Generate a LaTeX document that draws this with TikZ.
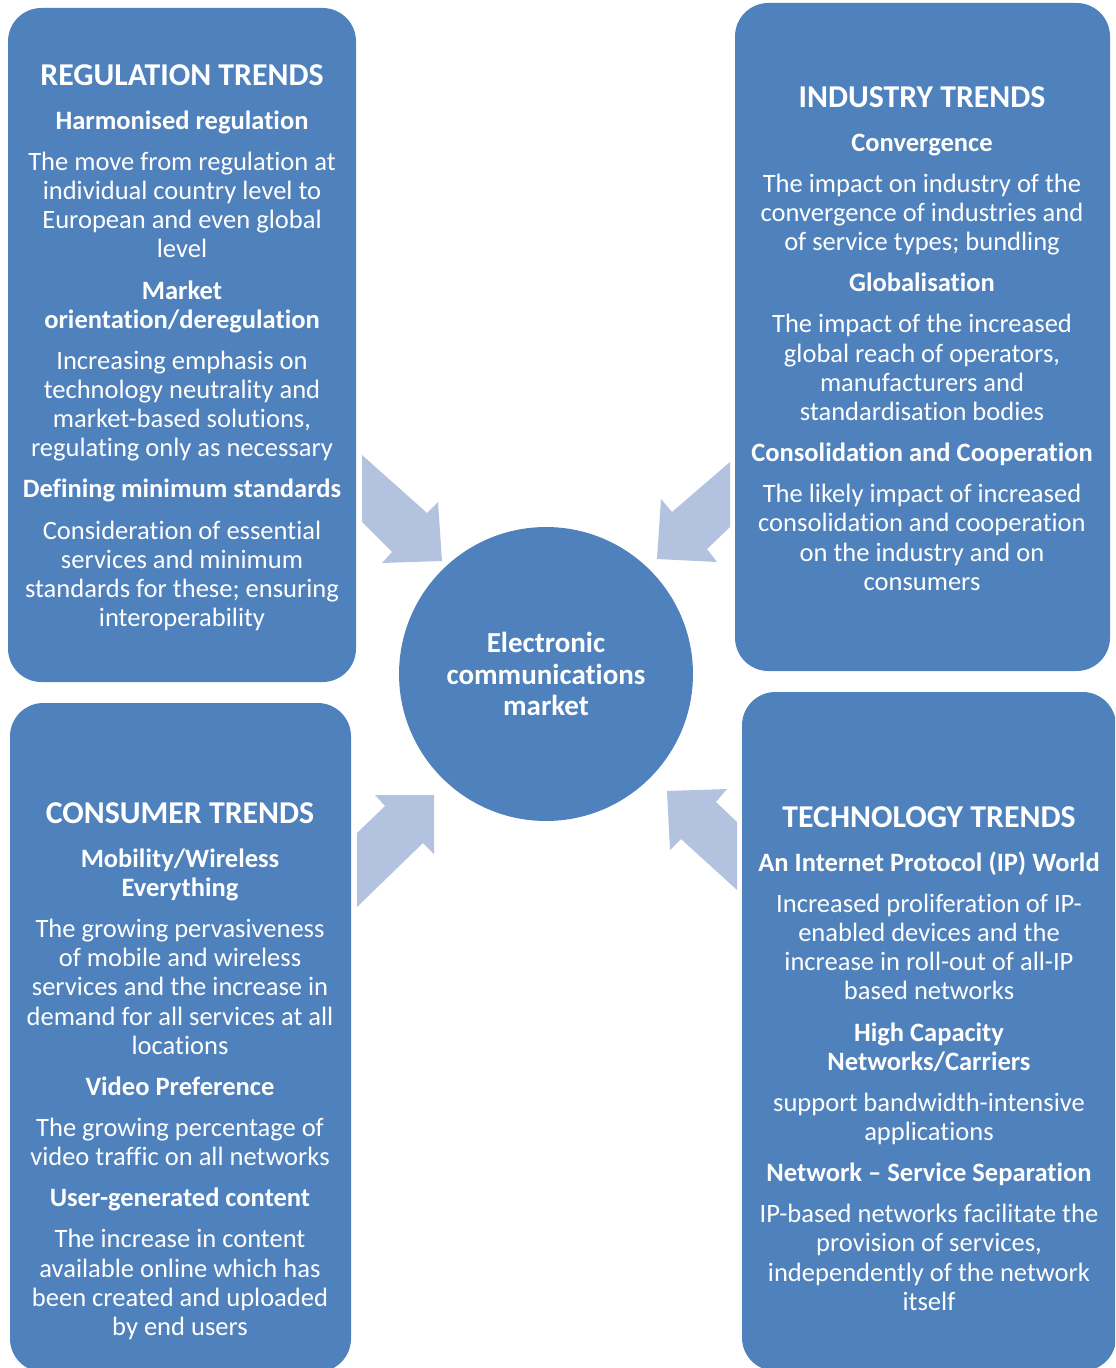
\documentclass[tikz,border=0pt]{standalone}
\usepackage{fontspec}
\setmainfont[Ligatures={TeX,NoCommon}]{Carlito}
\usetikzlibrary{positioning}
\definecolor{trendblue}{HTML}{4F81BD}
\definecolor{arrowblue}{HTML}{B3C2DE}
\newcommand{\trendtitle}[1]{{\fontsize{18.1}{16.6}\selectfont\bfseries #1}\\[8.5pt]}
\newcommand{\trendgap}{\\[6.8pt]}

\begin{document}
\begin{tikzpicture}[x=0.02cm, y=-0.02cm]

		\tikzstyle{trendbox}=[fill=trendblue, rounded corners=19pt]
		\tikzstyle{trendtext}=[text=white, align=center, inner sep=0pt, anchor=north,
		font=\fontsize{15.1}{16.6}\selectfont]
		\tikzstyle{bigarrow}=[fill=arrowblue]
		
		\useasboundingbox (0,0) rectangle (1115,1368);
		\clip (0,0) rectangle (1115,1368);
		
		% The four boxes
		\path[trendbox] (8,8) rectangle (356,682);
		\path[trendbox] (735,3) rectangle (1110,671);
		\path[trendbox] (10,703) rectangle (351,1372);
		\path[trendbox] (742,692) rectangle (1116,1371);
		
		% Centre circle
		\node[circle, fill=trendblue, minimum size=5.88cm, text=white, align=center,
		font=\fontsize{16.5}{18.1}\selectfont\bfseries] (market) at (546,674)
		{Electronic\\communications\\market};
		
		% Arrows towards the market
		\path[bigarrow] (362,455) -- (427,513) -- (438,502) -- (442,561)
		-- (382,563) -- (392,552) -- (362,522) -- cycle;
		\path[bigarrow] (730,462) -- (672,512) -- (661,499) -- (657,559)
		-- (717,562) -- (707,549) -- (730,527) -- cycle;
		\path[bigarrow] (357,907) -- (357,833) -- (385,806) -- (375,795)
		-- (434,795) -- (434,854) -- (423,843) -- cycle;
		\path[bigarrow] (667,791) -- (727,789) -- (716,802) -- (737,822)
		-- (737,890) -- (681,839) -- (670,850) -- cycle;
		
		% Regulation
		\node[trendtext] (regulation) at (182,64) {\trendtitle{REGULATION TRENDS}
		\textbf{Harmonised regulation}\trendgap
		The move from regulation at\\individual country level to\\
		European and even global\\level\trendgap
		\textbf{Market}\\\textbf{orientation/deregulation}\trendgap
		Increasing emphasis on\\technology neutrality and\\
		market-based solutions,\\regulating only as necessary\trendgap
		\textbf{Defining minimum standards}\trendgap
		Consideration of essential\\services and minimum\\
		standards for these; ensuring\\interoperability};
		
		% Industry
		\node[trendtext] (industry) at (922,86) {\trendtitle{INDUSTRY TRENDS}
		\textbf{Convergence}\trendgap
		The impact on industry of the\\convergence of industries and\\
		of service types; bundling\trendgap
		\textbf{Globalisation}\trendgap
		The impact of the increased\\global reach of operators,\\
		manufacturers and\\standardisation bodies\trendgap
		\textbf{Consolidation and Cooperation}\trendgap
		The likely impact of increased\\consolidation and cooperation\\
		on the industry and on\\consumers};
		
		% Consumer
		\node[trendtext] (consumer) at (180,802) {\trendtitle{CONSUMER TRENDS}
		\textbf{Mobility/Wireless}\\\textbf{Everything}\trendgap
		The growing pervasiveness\\of mobile and wireless\\
		services and the increase in\\demand for all services at all\\
		locations\trendgap
		\textbf{Video Preference}\trendgap
		The growing percentage of\\video traffic on all networks\trendgap
		\textbf{User-generated content}\trendgap
		The increase in content\\available online which has\\
		been created and uploaded\\by end users};
		
		% Technology
		\node[trendtext] (technology) at (929,806) {\trendtitle{TECHNOLOGY TRENDS}
		\textbf{An Internet Protocol (IP) World}\trendgap
		Increased proliferation of IP-\\enabled devices and the\\
		increase in roll-out of all-IP\\based networks\trendgap
		\textbf{High Capacity}\\\textbf{Networks/Carriers}\trendgap
		support bandwidth-intensive\\applications\trendgap
		\textbf{Network – Service Separation}\trendgap
		IP-based networks facilitate the\\provision of services,\\
		independently of the network\\itself};
		
\end{tikzpicture}
\end{document}
